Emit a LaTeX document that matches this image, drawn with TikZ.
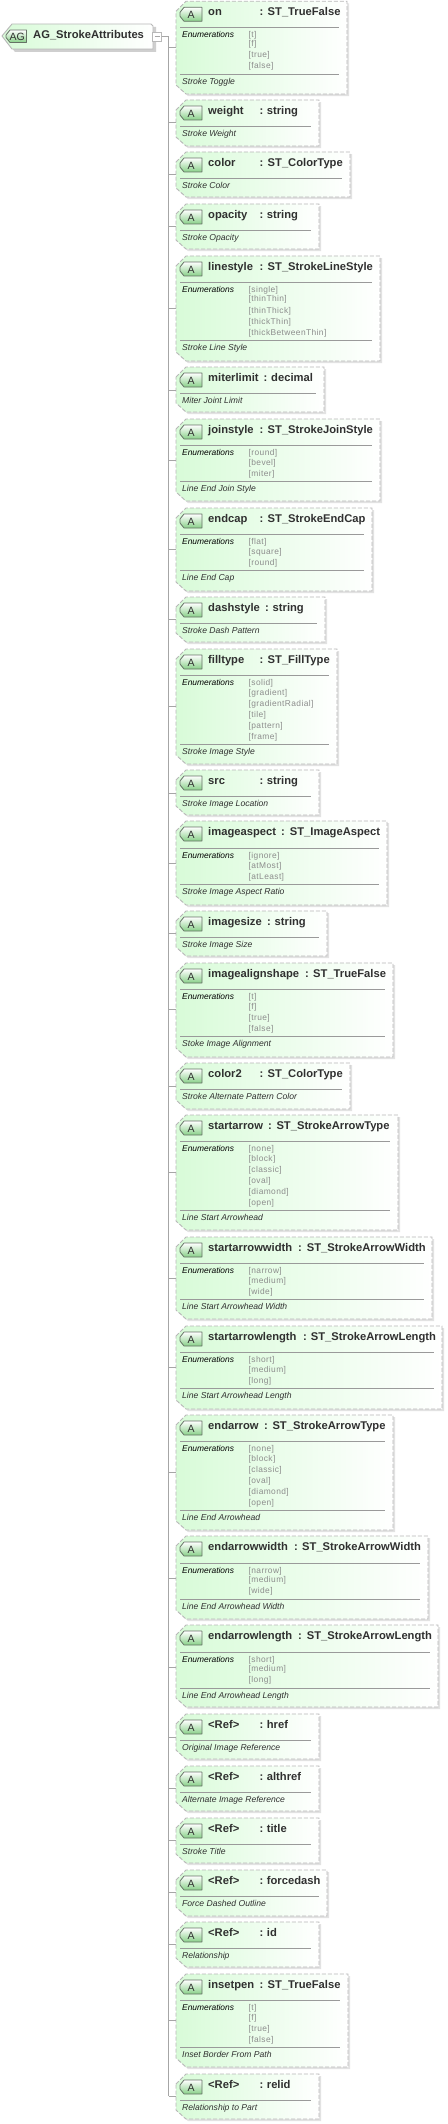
\documentclass[tikz,border=0pt]{standalone}
\usepackage{fontspec}
\setmainfont{Liberation Sans}
\usetikzlibrary{shadings}
\definecolor{boxgreen}{HTML}{D8FBD8}
\definecolor{edgegray}{HTML}{B8B8B8}
\definecolor{shadowgray}{HTML}{E2E2E2}
\definecolor{rootshadow}{HTML}{CFCFCF}
\definecolor{linegray}{HTML}{A6A6A6}
\definecolor{sepgray}{HTML}{9A9A9A}
\definecolor{icongreen}{HTML}{88D088}
\definecolor{iconedge}{HTML}{667266}
\definecolor{titletext}{HTML}{303030}
\definecolor{valtext}{HTML}{8C8C8C}
\tikzset{
  conn/.style={draw=linegray,line width=0.9pt},
  sepline/.style={draw=sepgray,line width=0.8pt},
  anchorbox/.style={inner sep=0pt,outer sep=0pt,minimum width=0pt},
  titlefont/.style={inner sep=0pt,anchor=base west,text=titletext,font=\fontsize{11.2}{12}\selectfont\bfseries},
  roman/.style={inner sep=0pt,anchor=base west},
  labelfont/.style={roman,text=black,font=\fontsize{8.4}{10}\selectfont\itshape},
  descfont/.style={roman,text=titletext,font=\fontsize{8.6}{10}\selectfont\itshape},
  valfont/.style={roman,text=valtext,font=\fontsize{8.4}{10}\selectfont\addfontfeatures{LetterSpace=4.7}},
  iconletter/.style={inner sep=0pt,anchor=base,text=titletext,font=\fontsize{10.5}{12}\selectfont},
}
\def\enumoffset#1{\ifcase#1\or7\or16.7\or27.7\or38.7\or49.7\or60.7\or71.7\fi}
% #1 left, #2 top, #3 width, #4 height: badge with a pointed left side
\newcommand{\badge}[4]{%
  \shade[top color=white,bottom color=icongreen,draw=iconedge,line width=0.8pt,rounded corners=0.3pt]
    (#1+4,#2) -- (#1+#3,#2) -- (#1+#3,#2+#4) -- (#1+4,#2+#4) -- (#1,#2+#4-5) -- (#1,#2+5) -- cycle;
}
% #1 id, #2 top, #3 bottom, #4 right, #5 branch y, #6 sep1, #7 sep2 (0 = none)
% #8 name, #9 colon x, then type x, type, values, description
\newcommand{\attr}[9]{%
  \def\bid{#1}\def\bt{#2}\def\bb{#3}\def\br{#4}\def\by{#5}\def\sa{#6}\def\sb{#7}\def\bname{#8}\def\bcolon{#9}%
  \attrrest}
\newcommand{\attrrest}[4]{%
  \fill[shadowgray] (176+2.2,\bt+10+2.2) -- (186+2.2,\bt+2.2) -- (\br+2.2,\bt+2.2) -- (\br+2.2,\bb+2.2) -- (186+2.2,\bb+2.2) -- (176+2.2,\bb-9+2.2) -- cycle;
  \shade[left color=boxgreen,right color=white]
    (176,\bt+10) -- (186,\bt) -- (\br,\bt) -- (\br,\bb) -- (186,\bb) -- (176,\bb-9) -- cycle;
  \draw[draw=edgegray,line width=0.9pt,dash pattern=on 4pt off 2pt]
    (176,\bt+10) -- (186,\bt) -- (\br,\bt) -- (\br,\bb) -- (186,\bb) -- (176,\bb-9) -- cycle;
  \node[anchorbox,minimum height=1pt] (\bid) at (176,\by) {};
  \draw[conn] (trunk |- \bid.west) -- (\bid.west);
  \badge{180}{\bt+6}{22}{14}
  \node[iconletter] (\bid-icon) at (191,\bt+17.5) {A};
  \node[titlefont] (\bid-name) at (208,\bt+14.7) {\bname};
  \node[titlefont] (\bid-colon) at (\bcolon,\bt+14.7) {:};
  \node[titlefont] (\bid-type) at (#1,\bt+14.7) {#2};
  \draw[sepline] (180,\sa) -- (\br-8,\sa);
  \ifdim\sb pt>0pt
    \node[labelfont] (\bid-enum) at (182,\sa+10) {Enumerations};
    \foreach \v [count=\i] in {#3} {
      \pgfmathsetmacro{\vy}{\sa+\enumoffset{\i}+3}
      \node[valfont] (\bid-v\i) at (248.5,\vy) {[\v]};
    }
    \draw[sepline] (180,\sb) -- (\br-8,\sb);
    \node[descfont] (\bid-desc) at (182,\sb+10.3) {#4};
  \else
    \node[descfont] (\bid-desc) at (182,\sa+10.3) {#4};
  \fi
}
\begin{document}
\begin{tikzpicture}[x=1pt,y=-1pt]
\useasboundingbox (0,0) rectangle (447,2124);
\fill[white] (0,0) rectangle (447,2124);
% root
\fill[rootshadow] (12+3,24+3) -- (153+3,24+3) -- (153+3,49+3) -- (12+3,49+3) -- (2+3,36+3) -- cycle;
\shade[left color=boxgreen,right color=white] (12,24) -- (151,24) -- (153,26) -- (153,49) -- (12,49) -- (2,36) -- cycle;
\draw[draw=edgegray,line width=0.9pt] (12,24) -- (151,24) -- (153,26) -- (153,49) -- (12,49) -- (2,36) -- cycle;
\badge{6}{30}{20.5}{12.5}
\node[iconletter] (root-icon) at (17.3,40.6) {AG};
\node[titlefont] (root) at (33,38.7) {AG\_StrokeAttributes};
\node[draw=edgegray,fill=white,line width=0.9pt,minimum size=9pt,inner sep=0pt] (collapse) at (157,36.5) {};
\draw[draw=linegray,line width=0.8pt] (154.5,36.5) -- (159.5,36.5);
\coordinate (trunk) at (168.5,36.5);
\coordinate (trunkend) at (168.5,2096);
\draw[conn] (collapse.east) -- (trunk) -- (trunkend);
\attr{on}{1.3}{94}{347}{47}{27.3}{74.3}{on}{259.3}{267.5}{ST\_TrueFalse}{t,f,true,false}{Stroke Toggle}
\attr{weight}{100}{146}{319}{122.5}{126.3}{0}{weight}{259.3}{266.7}{string}{}{Stroke Weight}
\attr{color}{152}{197}{350}{174.5}{178.3}{0}{color}{259.3}{267.5}{ST\_ColorType}{}{Stroke Color}
\attr{opacity}{204}{249}{319}{226.5}{230.3}{0}{opacity}{259.3}{266.7}{string}{}{Stroke Opacity}
\attr{linestyle}{256}{361}{380}{308}{282.3}{340.3}{linestyle}{259.3}{267.5}{ST\_StrokeLineStyle}{single,thinThin,thinThick,thickThin,thickBetweenThin}{Stroke Line Style}
\attr{miterlimit}{367}{412}{324}{390}{393.3}{0}{miterlimit}{263.5}{271}{decimal}{}{Miter Joint Limit}
\attr{joinstyle}{419}{501}{380}{460}{445.3}{481.3}{joinstyle}{259.3}{267.5}{ST\_StrokeJoinStyle}{round,bevel,miter}{Line End Join Style}
\attr{endcap}{508}{591}{372}{549}{534.3}{570.3}{endcap}{259.3}{267.5}{ST\_StrokeEndCap}{flat,square,round}{Line End Cap}
\attr{dashstyle}{597}{642}{325}{619}{623.3}{0}{dashstyle}{265}{272.5}{string}{}{Stroke Dash Pattern}
\attr{filltype}{649}{764}{337}{706}{675.3}{744.3}{filltype}{259.3}{267.5}{ST\_FillType}{solid,gradient,gradientRadial,tile,pattern,frame}{Stroke Image Style}
\attr{src}{770}{815}{319}{793}{796.3}{0}{src}{259.3}{266.7}{string}{}{Stroke Image Location}
\attr{imageaspect}{821}{905}{387}{863}{848.3}{884.3}{imageaspect}{281}{289.7}{ST\_ImageAspect}{ignore,atMost,atLeast}{Stroke Image Aspect Ratio}
\attr{imagesize}{911}{956}{327}{933}{937.3}{0}{imagesize}{267}{274.5}{string}{}{Stroke Image Size}
\attr{imagealignshape}{963}{1057}{393}{1009}{989.3}{1036.3}{imagealignshape}{305}{313}{ST\_TrueFalse}{t,f,true,false}{Stoke Image Alignment}
\attr{color2}{1063}{1109}{350}{1086}{1089.3}{0}{color2}{259.3}{267.5}{ST\_ColorType}{}{Stroke Alternate Pattern Color}
\attr{startarrow}{1115}{1230}{398}{1172}{1141.7}{1210.3}{startarrow}{268}{276.3}{ST\_StrokeArrowType}{none,block,classic,oval,diamond,open}{Line Start Arrowhead}
\attr{startarrowwidth}{1237}{1319}{432}{1278}{1263.3}{1299.3}{startarrowwidth}{298}{306.7}{ST\_StrokeArrowWidth}{narrow,medium,wide}{Line Start Arrowhead Width}
\attr{startarrowlength}{1326}{1409}{442}{1367}{1352.3}{1388.3}{startarrowlength}{303}{310.7}{ST\_StrokeArrowLength}{short,medium,long}{Line Start Arrowhead Length}
\attr{endarrow}{1415}{1530}{393}{1472}{1441.7}{1510.3}{endarrow}{264}{272.3}{ST\_StrokeArrowType}{none,block,classic,oval,diamond,open}{Line End Arrowhead}
\attr{endarrowwidth}{1536}{1619}{428}{1578}{1563}{1599}{endarrowwidth}{294}{302}{ST\_StrokeArrowWidth}{narrow,medium,wide}{Line End Arrowhead Width}
\attr{endarrowlength}{1625}{1707}{438}{1667}{1652}{1688}{endarrowlength}{298}{306.7}{ST\_StrokeArrowLength}{short,medium,long}{Line End Arrowhead Length}
\attr{href}{1714}{1759}{319}{1737}{1740.3}{0}{<Ref>}{259.3}{266.7}{href}{}{Original Image Reference}
\attr{althref}{1766}{1811}{319}{1788}{1792.3}{0}{<Ref>}{259.3}{266.7}{althref}{}{Alternate Image Reference}
\attr{title}{1818}{1863}{319}{1840}{1844.3}{0}{<Ref>}{259.3}{266.7}{title}{}{Stroke Title}
\attr{forcedash}{1870}{1916}{327}{1892}{1896.3}{0}{<Ref>}{259.3}{266.7}{forcedash}{}{Force Dashed Outline}
\attr{id}{1922}{1967}{319}{1944}{1948.3}{0}{<Ref>}{259.3}{266.7}{id}{}{Relationship}
\attr{insetpen}{1974}{2067}{348}{2020}{2000.3}{2047.3}{insetpen}{259.3}{267.5}{ST\_TrueFalse}{t,f,true,false}{Inset Border From Path}
\attr{relid}{2074}{2119}{319}{2096}{2100.3}{0}{<Ref>}{259.3}{266.7}{relid}{}{Relationship to Part}
\end{tikzpicture}
\end{document}
